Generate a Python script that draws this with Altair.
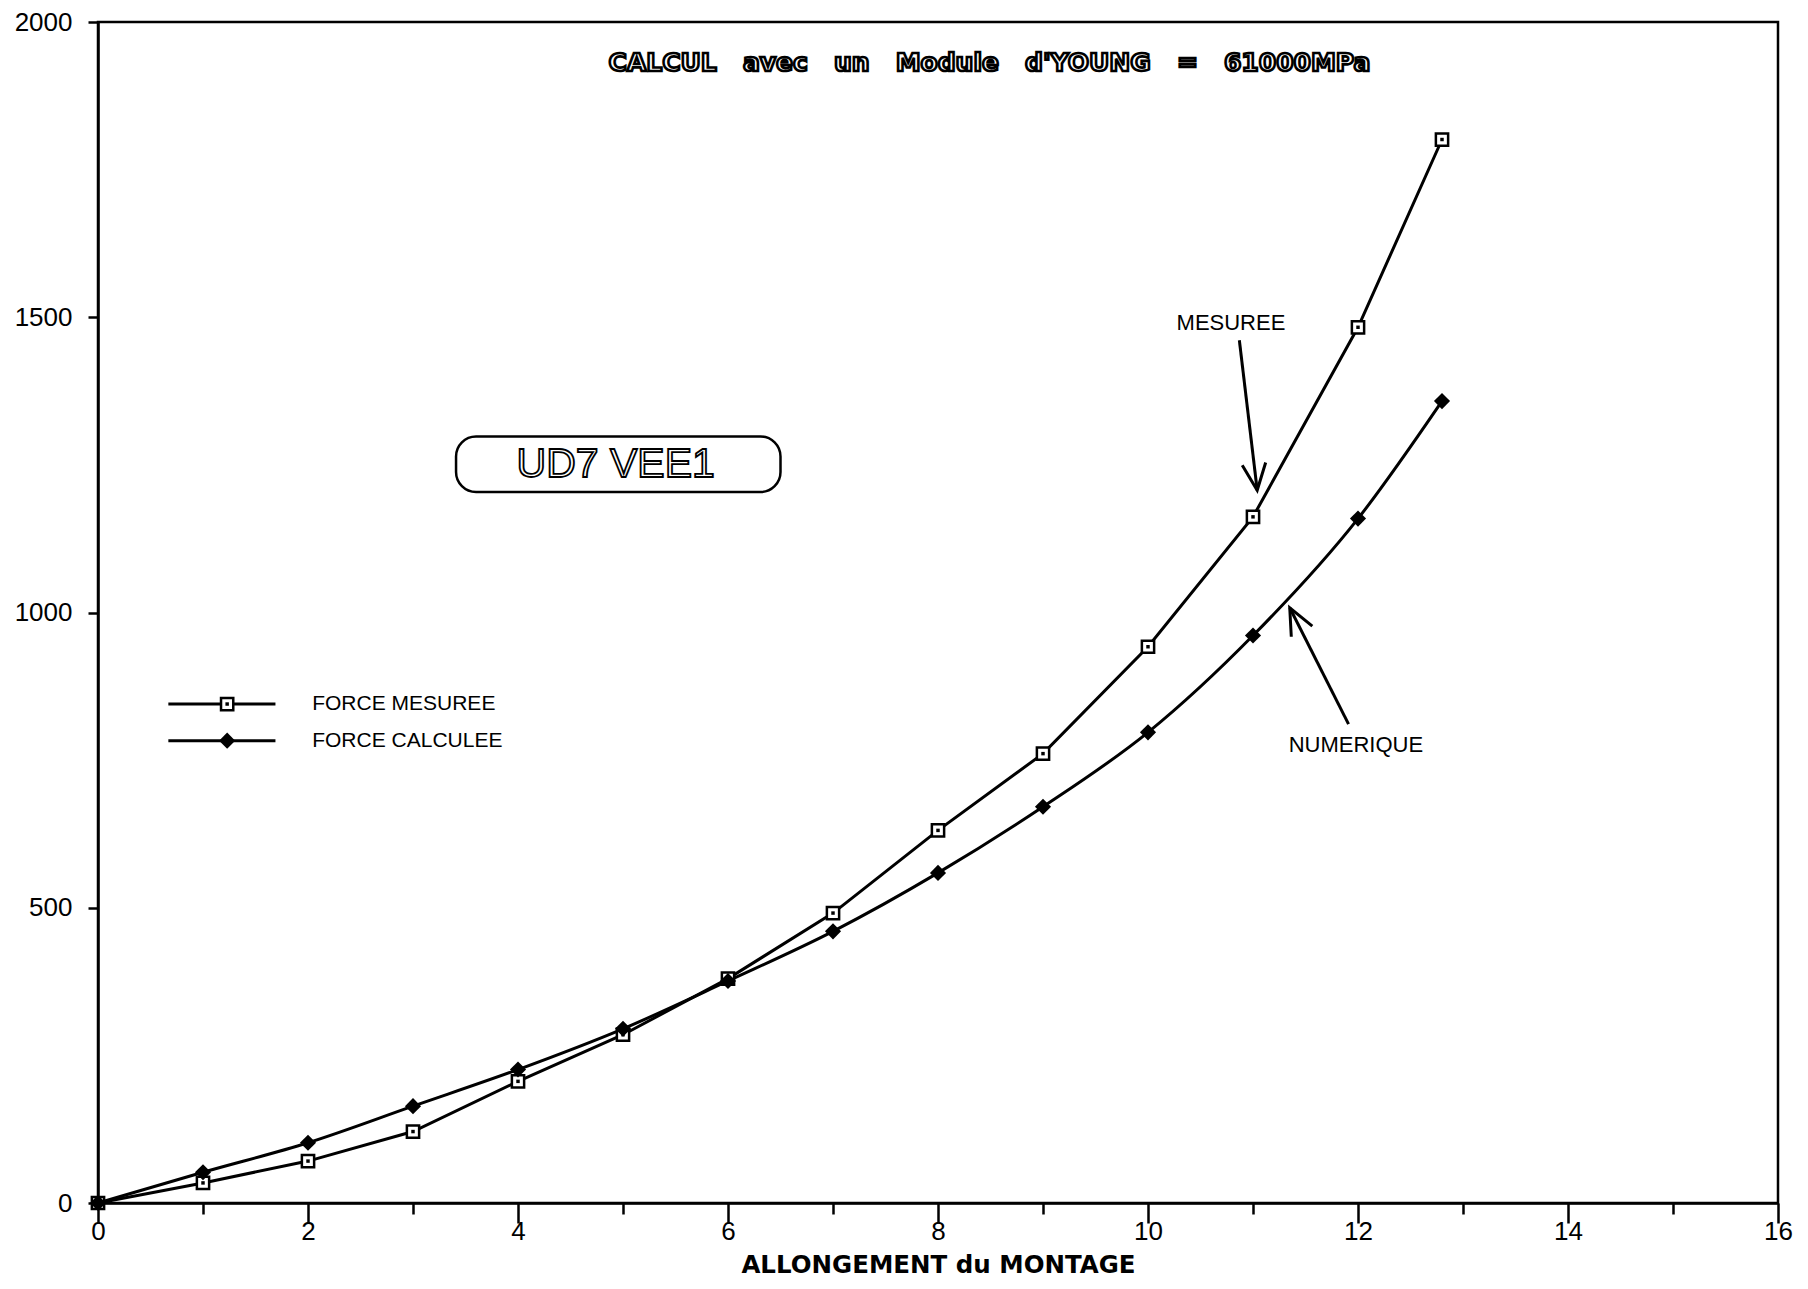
import altair as alt
import pandas as pd

# ---- data ----
x_vals = [0, 1, 2, 3, 4, 5, 6, 7, 8, 9, 10, 11, 12, 12.8]
force_mesuree = [0, 34, 71, 121, 206, 285, 380, 491, 631, 761, 942, 1162, 1483, 1801]
force_calculee = [0, 52, 102, 164, 226, 295, 376, 460, 559, 671, 797, 961, 1159, 1358]

x_ticks = list(range(0, 17))
y_ticks = [0, 500, 1000, 1500, 2000]

legend_labels = ["FORCE MESUREE", "FORCE CALCULEE"]
legend_y = [845, 783]
legend_line_x = [0.67, 1.69]
legend_marker_x = 1.23
legend_text_x = 2.04

annot_labels = ["MESUREE", "NUMERIQUE"]
annot_text_x = [10.79, 11.98]
annot_text_y = [1490, 775]
arrow_x0 = [10.87, 11.91]
arrow_y0 = [1461, 811]
arrow_x1 = [11.04, 11.35]
arrow_y1 = [1207, 1008]
arrow_angle = [173, 333]

title_words = ["CALCUL", "avec", "un", "Module", "d'YOUNG", "=", "61000MPa"]
title_pos = [8.49, 1930]

box_label = "UD7 VEE1"
box_x = [3.41, 6.50]
box_y = [1204, 1298]
box_text_pos = [4.93, 1250]

x_title = "ALLONGEMENT du MONTAGE"

# ---- tables ----
df_m = pd.DataFrame({"x": x_vals, "y": force_mesuree})
df_c = pd.DataFrame({"x": x_vals, "y": force_calculee})
df_leg = pd.DataFrame({"x0": [legend_line_x[0]] * 2, "x1": [legend_line_x[1]] * 2,
                       "xm": [legend_marker_x] * 2, "xt": [legend_text_x] * 2,
                       "y": legend_y, "label": legend_labels})
df_ann = pd.DataFrame({"tx": annot_text_x, "ty": annot_text_y, "label": annot_labels,
                       "x0": arrow_x0, "y0": arrow_y0, "x1": arrow_x1, "y1": arrow_y1,
                       "angle": arrow_angle})
df_title = pd.DataFrame({"x": [title_pos[0]], "y": [title_pos[1]],
                         "label": ["\u00a0\u00a0\u00a0".join(title_words)]})
df_box = pd.DataFrame({"x0": [box_x[0]], "x1": [box_x[1]], "y0": [box_y[0]], "y1": [box_y[1]],
                       "tx": [box_text_pos[0]], "ty": [box_text_pos[1]], "label": [box_label]})

xs = alt.Scale(domain=[0, 16], nice=False, zero=False)
ys = alt.Scale(domain=[0, 2000], nice=False)

xaxis = alt.Axis(values=x_ticks, format="d",
                 labelExpr="datum.value % 2 === 0 ? datum.label : ''",
                 tickSize={"condition": {"test": "datum.value % 2 === 0", "value": 20}, "value": 11},
                 labelPadding=-5, labelFontSize=26, labelFont="Liberation Sans",
                 labelColor="black", labelFlush=False, labelOverlap=False,
                 domainColor="black", domainWidth=2.5, tickColor="black", tickWidth=2.5,
                 grid=False, title=x_title, titleFont="DejaVu Sans", titleFontSize=24.5,
                 titleFontWeight="bold", titleColor="black", titlePadding=9)
yaxis = alt.Axis(values=y_ticks, format="d", tickSize=10, labelPadding=16, labelFontSize=26,
                 labelFont="Liberation Sans", labelColor="black", labelFlush=False,
                 labelOverlap=False, domainColor="black", domainWidth=2.5, tickColor="black",
                 tickWidth=2.5, grid=False, title=None)


def X(f):
    return alt.X(f, type="quantitative", scale=xs, axis=xaxis)


def Y(f):
    return alt.Y(f, type="quantitative", scale=ys, axis=yaxis)


line_m = alt.Chart(df_m).mark_line(color="black", strokeWidth=3).encode(x=X("x"), y=Y("y"))
line_c = alt.Chart(df_c).mark_line(color="black", strokeWidth=3, interpolate="monotone").encode(
    x=X("x"), y=Y("y"))
pts_m = alt.Chart(df_m).mark_point(shape="square", filled=True, fill="white", stroke="black",
                                   strokeWidth=2.5, size=150, opacity=1).encode(x=X("x"), y=Y("y"))
dots_m = alt.Chart(df_m).mark_point(shape="square", filled=True, color="black", size=12,
                                    opacity=1).encode(x=X("x"), y=Y("y"))
pts_c = alt.Chart(df_c).mark_point(shape="diamond", filled=True, color="black", size=260,
                                   opacity=1).encode(x=X("x"), y=Y("y"))

leg_lines = alt.Chart(df_leg).mark_rule(color="black", strokeWidth=3).encode(
    x=X("x0"), x2="x1", y=Y("y"))
leg_sq = alt.Chart(df_leg.iloc[[0]]).mark_point(shape="square", filled=True, fill="white",
                                                stroke="black", strokeWidth=2.5, size=150,
                                                opacity=1).encode(x=X("xm"), y=Y("y"))
leg_dot = alt.Chart(df_leg.iloc[[0]]).mark_point(shape="square", filled=True, color="black",
                                                 size=12, opacity=1).encode(x=X("xm"), y=Y("y"))
leg_dm = alt.Chart(df_leg.iloc[[1]]).mark_point(shape="diamond", filled=True, color="black",
                                                size=260, opacity=1).encode(x=X("xm"), y=Y("y"))
leg_text = alt.Chart(df_leg).mark_text(align="left", baseline="middle", fontSize=21,
                                       font="Liberation Sans", color="black").encode(
    x=X("xt"), y=Y("y"), text="label:N")

ann_text = alt.Chart(df_ann).mark_text(align="center", baseline="middle", fontSize=22,
                                       font="Liberation Sans", color="black").encode(
    x=X("tx"), y=Y("ty"), text="label:N")
ann_shaft = alt.Chart(df_ann).mark_rule(color="black", strokeWidth=3).encode(
    x=X("x0"), y=Y("y0"), x2="x1", y2="y1")
ann_head = alt.Chart(df_ann).mark_point(shape="M-0.4,0.9L0,0L0.4,0.9", filled=False,
                                        color="black", strokeWidth=3, size=3481,
                                        opacity=1).encode(
    x=X("x1"), y=Y("y1"), angle=alt.Angle("angle:Q", scale=None))

title_t = alt.Chart(df_title).mark_text(align="center", baseline="middle", fontSize=25,
                                        font="DejaVu Sans", fontWeight="bold", fill="white",
                                        stroke="black", strokeWidth=2.6).encode(
    x=X("x"), y=Y("y"), text="label:N")

box_r = alt.Chart(df_box).mark_rect(fill="white", fillOpacity=0, stroke="black", strokeWidth=2.5,
                                    cornerRadius=20).encode(
    x=X("x0"), x2="x1", y=Y("y0"), y2="y1")
box_t = alt.Chart(df_box).mark_text(align="center", baseline="middle", fontSize=41,
                                    font="Liberation Sans", fill="white", stroke="black",
                                    strokeWidth=1.8).encode(
    x=X("tx"), y=Y("ty"), text="label:N")

chart = alt.layer(
    line_m, line_c, pts_m, dots_m, pts_c,
    leg_lines, leg_sq, leg_dot, leg_dm, leg_text,
    ann_shaft, ann_head, ann_text,
    title_t, box_r, box_t,
).properties(
    width=1680, height=1181,
    autosize=alt.AutoSizeParams(type="none"),
    padding={"left": 90, "top": 14, "right": 20, "bottom": 75},
    background="white",
).configure_view(stroke="black", strokeWidth=2.5)

chart.save("out.html", embed_options={"renderer": "svg", "actions": False})
